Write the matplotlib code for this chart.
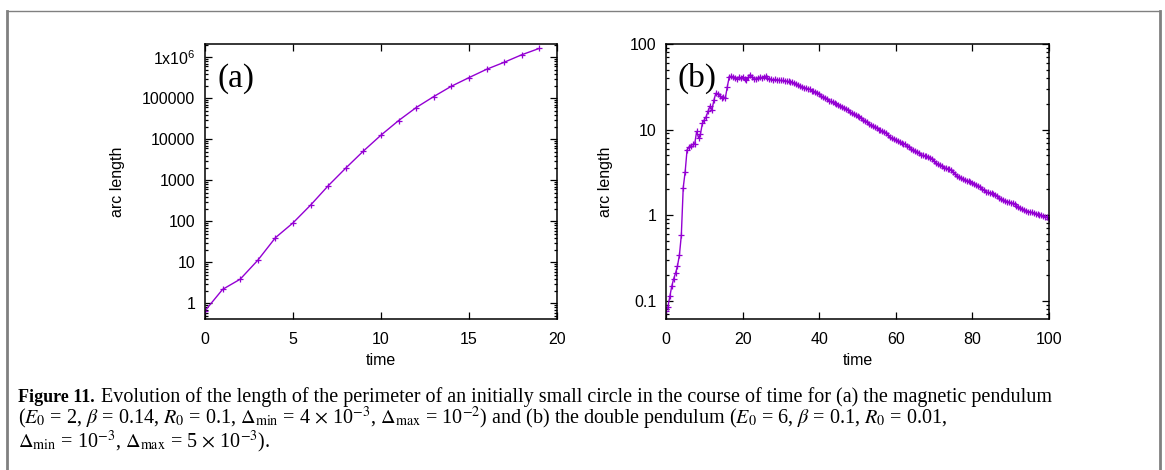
import matplotlib
matplotlib.use("Agg")
import matplotlib.pyplot as plt
import numpy as np
from matplotlib.lines import Line2D
from matplotlib.ticker import FixedLocator, LogLocator, NullFormatter

# panel (a): magnetic pendulum
time_a = [0, 1, 2, 3, 4, 5, 6, 7, 8, 9, 10, 11, 12, 13, 14, 15, 16, 17, 18, 19]
arc_a = [0.66, 2.2, 3.9, 11.3, 40, 92, 250, 740, 2000, 5200,
         12700, 28800, 59800, 111000, 198000, 321000, 513000, 760000, 1160000, 1660000]

# panel (b): double pendulum, sampled every 0.5 time units
time_b = np.arange(0, 100.5, 0.5)
arc_b = [
    0.075, 0.085, 0.112, 0.147, 0.18, 0.21, 0.255, 0.34, 0.58, 2.1,
    3.2, 5.8, 6.2, 6.5, 6.7, 6.8, 9.5, 8.0, 8.9, 11.8,
    13.0, 14.2, 16.5, 18.8, 17.0, 22.0, 26.5, 26.3, 24.5, 23.5,
    24.0, 23.5, 31.5, 41.0, 42.0, 41.5, 40.5, 39.5, 41.0, 40.0,
    41.5, 38.5, 38.0, 41.0, 44.0, 41.5, 39.5, 38.5, 40.0, 41.0,
    40.5, 41.5, 42.0, 40.0, 39.0, 38.5,
    38.0, 38.5, 38.0, 37.5, 37.5, 37.5, 37.0, 36.5, 36.5, 36.0,
    35.5, 35.0, 34.0, 33.0, 32.0, 31.5, 31.0, 30.5, 30.0, 29.5,
    28.5, 28.0, 27.5, 27.0, 26.0, 25.0, 24.0, 23.5, 22.5, 21.8,
    21.3, 21.0, 20.5, 20.0, 19.5, 19.0, 18.5, 18.0, 17.3, 16.8,
    16.2, 15.6, 15.0, 14.6, 14.3, 14.0, 13.6, 13.1, 12.6, 12.1,
    11.6, 11.2, 10.9, 10.6, 10.3, 10.0, 9.8, 9.6, 9.3, 9.0,
    8.6, 8.2, 7.9, 7.7, 7.5, 7.3, 7.1, 6.9, 6.8, 6.7,
    6.5, 6.3, 6.0, 5.8, 5.6, 5.4, 5.25, 5.1, 5.0, 4.95,
    4.9, 4.8, 4.7, 4.5, 4.3, 4.1, 3.95, 3.8, 3.7, 3.6,
    3.55, 3.5, 3.45, 3.35, 3.2, 3.05, 2.9, 2.8, 2.7, 2.62,
    2.55, 2.5, 2.48, 2.45, 2.4, 2.32, 2.25, 2.18, 2.12, 2.04,
    1.96, 1.88, 1.84, 1.82, 1.81, 1.78, 1.72, 1.66, 1.6, 1.54,
    1.49, 1.46, 1.44, 1.42, 1.40, 1.37, 1.33, 1.29, 1.25, 1.21,
    1.17, 1.14, 1.12, 1.10, 1.09, 1.08, 1.06, 1.04, 1.02, 1.00,
    0.99, 0.98, 0.96, 0.94, 0.91,
]

yticks_a = [1, 10, 100, 1000, 10000, 100000, 1000000]
ylabels_a = ["1", "10", "100", "1000", "10000", "100000", "1x10$^6$"]
yticks_b = [0.1, 1, 10, 100]
ylabels_b = ["0.1", "1", "10", "100"]

plt.rcParams["font.family"] = ["Liberation Sans", "DejaVu Sans"]
plt.rcParams["mathtext.fontset"] = "custom"
plt.rcParams["mathtext.rm"] = "Liberation Sans"
plt.rcParams["mathtext.it"] = "Liberation Sans"

W, H = 1165, 470
fig = plt.figure(figsize=(W / 100, H / 100), dpi=100)
color = "#9400d3"


def style_axes(ax, xticks, xlim, ylim, yticks, ylabels):
    ax.set_yscale("log")
    ax.set_xlim(*xlim)
    ax.set_ylim(*ylim)
    ax.xaxis.set_major_locator(FixedLocator(xticks))
    ax.set_xticklabels([str(t) for t in xticks])
    ax.yaxis.set_major_locator(FixedLocator(yticks))
    ax.set_yticklabels(ylabels)
    ax.yaxis.set_minor_locator(LogLocator(base=10, subs=np.arange(2, 10), numticks=20))
    ax.yaxis.set_minor_formatter(NullFormatter())
    ax.tick_params(which="both", direction="in", top=True, right=True, labelsize=11.5,
                   width=0.9)
    ax.tick_params(axis="x", pad=9)
    ax.tick_params(axis="y", pad=7)
    ax.tick_params(which="major", length=5)
    ax.tick_params(which="minor", length=2.5)
    for s in ax.spines.values():
        s.set_linewidth(1.1)
    ax.set_xlabel("time", fontsize=11.5, labelpad=5)
    ax.set_ylabel("arc length", fontsize=11.5, labelpad=12)


ax_a = fig.add_axes([205 / W, 1 - 319 / H, 352 / W, 275 / H])
ax_a.plot(time_a, arc_a, color=color, lw=1.0, marker="+", ms=5, mew=0.9)
style_axes(ax_a, [0, 5, 10, 15, 20], (0, 20), (0.417, 2.12e6), yticks_a, ylabels_a)
ax_a.text(0.035, 0.93, "(a)", transform=ax_a.transAxes, family="Liberation Serif",
          fontsize=24, va="top", ha="left")

ax_b = fig.add_axes([666 / W, 1 - 319 / H, 383 / W, 275 / H])
ax_b.plot(time_b, arc_b, color=color, lw=1.0, marker="+", ms=5, mew=0.9)
style_axes(ax_b, [0, 20, 40, 60, 80, 100], (0, 100), (0.061, 100), yticks_b, ylabels_b)
ax_b.text(0.03, 0.93, "(b)", transform=ax_b.transAxes, family="Liberation Serif",
          fontsize=24, va="top", ha="left")

# gray frame around the figure
gray = "#808080"
fig.add_artist(Line2D([7 / W, 7 / W], [0, 1 - 10.5 / H], color=gray, lw=2.0,
                      transform=fig.transFigure))
fig.add_artist(Line2D([7 / W, 1160 / W], [1 - 10.5 / H, 1 - 10.5 / H], color=gray, lw=1.0,
                      transform=fig.transFigure))
fig.add_artist(Line2D([1160 / W, 1160 / W], [0, 1 - 10.5 / H], color=gray, lw=2.0,
                      transform=fig.transFigure))

# caption
plt.rcParams["mathtext.fontset"] = "stix"
cap_kw = dict(family="Liberation Serif", fontsize=14.5, va="baseline", ha="left")
fig.text(18 / W, 1 - 402 / H, "Figure 11.", weight="bold",
         **{**cap_kw, "fontsize": 13})
fig.text(101 / W, 1 - 402 / H,
         "Evolution of the length of the perimeter of an initially small circle in the course "
         "of time for (a) the magnetic pendulum", **cap_kw)
fig.text(18 / W, 1 - 424 / H,
         r"($E_0$ = 2, $\beta$ = 0.14, $R_0$ = 0.1, $\Delta_{\rm min}$ = 4 $\times$ 10$^{-3}$, "
         r"$\Delta_{\rm max}$ = 10$^{-2}$) and (b) the double pendulum ($E_0$ = 6, "
         r"$\beta$ = 0.1, $R_0$ = 0.01,", **cap_kw)
fig.text(18 / W, 1 - 448 / H,
         r"$\Delta_{\rm min}$ = 10$^{-3}$, $\Delta_{\rm max}$ = 5 $\times$ 10$^{-3}$).",
         **cap_kw)

fig.savefig("out.png", dpi=100)
